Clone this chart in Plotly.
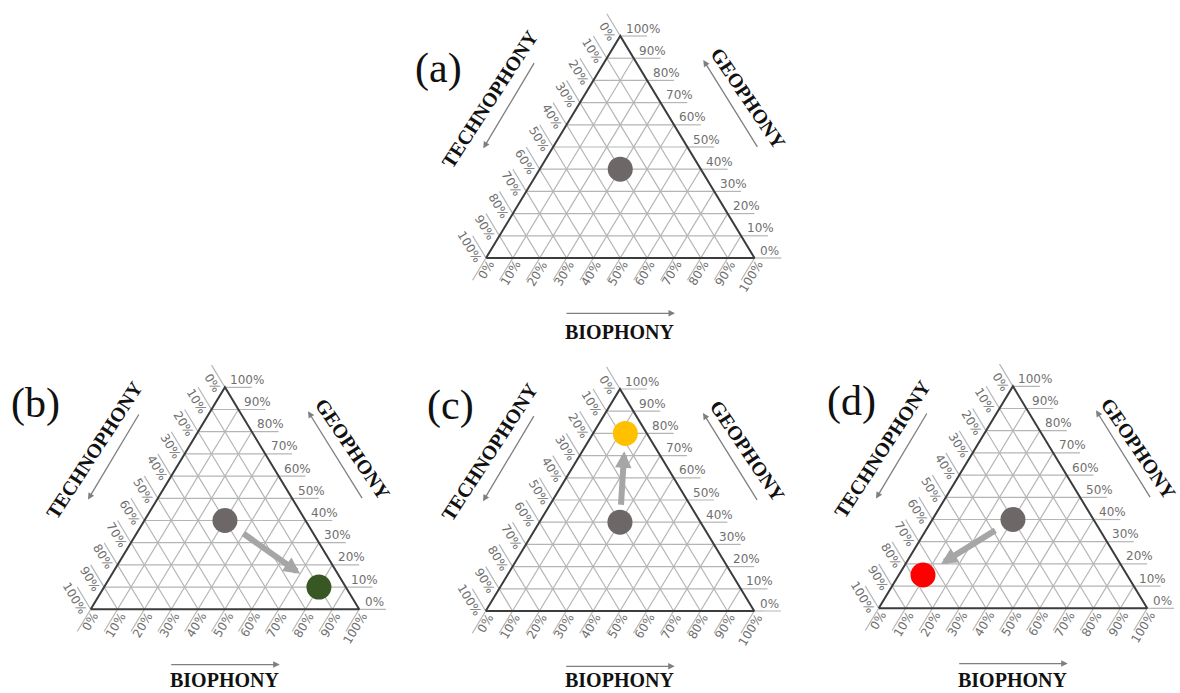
import math
import plotly.graph_objects as go

# Soundscape composition (%) per panel: biophony, technophony, geophony
panel_labels = ["(a)", "(b)", "(c)", "(d)"]
start_bio = [30, 30, 30, 30]
start_tech = [30, 30, 30, 30]
start_geo = [40, 40, 40, 40]
end_bio = [None, 80, 12, 9]
end_tech = [None, 10, 8, 76]
end_geo = [None, 10, 80, 15]
end_colors = [None, "#385723", "#ffc000", "#ff0000"]
start_color = "#6e6767"

tick_values = [0, 10, 20, 30, 40, 50, 60, 70, 80, 90, 100]
tick_labels = [f"{v}%" for v in tick_values]
title_bio = "BIOPHONY"
title_tech = "TECHNOPHONY"
title_geo = "GEOPHONY"

# ---- layout (pixels) ----
W, H = 1180, 693
SIDE_PX = 268.5
HEIGHT_PX = 222.0
R3 = math.sqrt(3) / 2
SX = SIDE_PX
SY = HEIGHT_PX / R3
# bottom-left corner of each triangle, and placement of the panel letter
origins = [(486.0, 258.0), (90.7, 609.3), (485.7, 611.0), (878.7, 608.3)]
letter_offsets = [(-47.7, -189.7), (-55.7, -206.0), (-35.7, -206.0), (-27.0, -206.6)]

GRID = "#b5b5b5"
EDGE = "#3c3c3c"
TICK_FONT = dict(family="DejaVu Sans", size=12, color="#6f6f6f")
TITLE_FONT = dict(family="Liberation Serif", size=20, color="#111111")
LETTER_FONT = dict(family="Liberation Serif", size=42, color="#111111")


def tern(bio, tech, geo):
    """Composition in % -> cartesian (side 1, technophony corner at origin)."""
    b, g = bio / 100.0, geo / 100.0
    return b + g / 2.0, g * R3


def shift(x, y, dx_px, dy_px):
    """Move a data point by a screen offset in pixels (y down)."""
    return x + dx_px / SX, y - dy_px / SY


def label_width(text, size=12):
    digits = sum(ch.isdigit() for ch in text)
    return size * (0.636 * digits + 0.95)


fig = go.Figure()
annotations = []
layout_axes = {}

for i, letter in enumerate(panel_labels):
    n = "" if i == 0 else str(i + 1)
    xref, yref = "x" + n, "y" + n
    ox, oy = origins[i]
    left, right = max(0.0, ox - 100), min(W, ox + 330)
    top, bottom = max(0.0, oy - 262), min(H, oy + 86)
    layout_axes["xaxis" + n] = dict(
        domain=[left / W, right / W],
        range=[(left - ox) / SX, (right - ox) / SX],
        visible=False, fixedrange=True, anchor=yref,
    )
    layout_axes["yaxis" + n] = dict(
        domain=[1 - bottom / H, 1 - top / H],
        range=[(oy - bottom) / SY, (oy - top) / SY],
        visible=False, fixedrange=True, anchor=xref,
    )

    # interior grid lines every 10 %
    gx, gy = [], []
    for v in tick_values[1:-1]:
        for p, q in (
            (tern(0, 100 - v, v), tern(100 - v, 0, v)),      # constant geophony
            (tern(100 - v, v, 0), tern(0, v, 100 - v)),      # constant technophony
            (tern(v, 100 - v, 0), tern(v, 0, 100 - v)),      # constant biophony
        ):
            gx += [p[0], q[0], None]
            gy += [p[1], q[1], None]
    # tick extensions outside each edge
    for v in tick_values:
        for p, q in (
            (tern(100 - v, 0, v), tern(110 - v, -10, v)),      # right edge
            (tern(0, v, 100 - v), tern(-10, v, 110 - v)),      # left edge
            (tern(v, 100 - v, 0), tern(v, 110 - v, -10)),      # bottom edge
        ):
            gx += [p[0], q[0], None]
            gy += [p[1], q[1], None]
    fig.add_trace(go.Scatter(x=gx, y=gy, mode="lines", xaxis=xref, yaxis=yref,
                             line=dict(color=GRID, width=1.2), hoverinfo="skip"))

    # triangle outline
    corners = [tern(0, 100, 0), tern(100, 0, 0), tern(0, 0, 100), tern(0, 100, 0)]
    fig.add_trace(go.Scatter(x=[c[0] for c in corners], y=[c[1] for c in corners],
                             mode="lines", xaxis=xref, yaxis=yref,
                             line=dict(color=EDGE, width=2), hoverinfo="skip"))

    # tick labels
    for v, lab in zip(tick_values, tick_labels):
        w = label_width(lab)
        # geophony, right edge, horizontal
        px, py = tern(100 - v, 0, v)
        lx, ly = shift(px, py, 3.5, -7.5)
        annotations.append(dict(x=lx, y=ly, xref=xref, yref=yref, text=lab, showarrow=False,
                                xanchor="left", yanchor="middle", font=TICK_FONT))
        # technophony, left edge, along the tick
        px, py = tern(0, v, 100 - v)
        qx, qy = tern(-10, v, 110 - v)
        ux, uy = (qx - px) * SX, -(qy - py) * SY
        L = math.hypot(ux, uy)
        ux, uy = ux / L, uy / L
        nx, ny = uy, -ux
        d = 0.8 + w / 2
        cx, cy = shift(px, py, ux * d + nx * 8.5, uy * d + ny * 8.5)
        ang = math.degrees(math.atan2(-uy, -ux))
        annotations.append(dict(x=cx, y=cy, xref=xref, yref=yref, text=lab, showarrow=False,
                                xanchor="center", yanchor="middle", textangle=ang, font=TICK_FONT))
        # biophony, bottom edge, along the tick
        px, py = tern(v, 100 - v, 0)
        qx, qy = tern(v, 110 - v, -10)
        ux, uy = (qx - px) * SX, -(qy - py) * SY
        L = math.hypot(ux, uy)
        ux, uy = ux / L, uy / L
        nx, ny = uy, -ux
        cx, cy = shift(px, py, ux * d + nx * 6.5, uy * d + ny * 6.5)
        ang = math.degrees(math.atan2(-uy, -ux))
        annotations.append(dict(x=cx, y=cy, xref=xref, yref=yref, text=lab, showarrow=False,
                                xanchor="center", yanchor="middle", textangle=ang, font=TICK_FONT))

    # axis titles and direction arrows (kept inside the page)
    geo_dx = min(262.0, W - 42 - ox)
    bio_dy = min(73.5, H - 13 - oy)
    for text, (dx, dy), ang in (
        (title_tech, (3.8, -159.0), -57),
        (title_geo, (geo_dx, -160.0), 56),
        (title_bio, (133.3, bio_dy), 0),
    ):
        tx, ty = shift(0, 0, dx, dy)
        annotations.append(dict(x=tx, y=ty, xref=xref, yref=yref, text=f"<b>{text}</b>",
                                showarrow=False, xanchor="center", yanchor="middle",
                                textangle=ang, font=TITLE_FONT))
    for (tdx, tdy), (hdx, hdy) in (
        ((49.0, -196.3), (-2.7, -109.7)),
        ((272.3, -109.7), (217.3, -198.0)),
        ((79.0, 55.3), (189.0, 55.3)),
    ):
        hx, hy = shift(0, 0, hdx, hdy)
        tx, ty = shift(0, 0, tdx, tdy)
        annotations.append(dict(x=hx, y=hy, ax=tx, ay=ty, xref=xref, yref=yref,
                                axref=xref, ayref=yref, text="", showarrow=True,
                                arrowhead=2, arrowsize=1, arrowwidth=1.3,
                                arrowcolor="#7f7f7f"))

    # panel letter
    lx, ly = shift(0, 0, *letter_offsets[i])
    annotations.append(dict(x=lx, y=ly, xref=xref, yref=yref, text=letter, showarrow=False,
                            xanchor="center", yanchor="middle", font=LETTER_FONT))

    # compositions
    sx0, sy0 = tern(start_bio[i], start_tech[i], start_geo[i])
    fig.add_trace(go.Scatter(x=[sx0], y=[sy0], mode="markers", xaxis=xref, yaxis=yref,
                             marker=dict(size=25, color=start_color),
                             hovertemplate="Biophony %{customdata[0]}%<br>Technophony %{customdata[1]}%"
                                           "<br>Geophony %{customdata[2]}%<extra></extra>",
                             customdata=[[start_bio[i], start_tech[i], start_geo[i]]]))
    if end_bio[i] is not None:
        ex, ey = tern(end_bio[i], end_tech[i], end_geo[i])
        fig.add_trace(go.Scatter(x=[ex], y=[ey], mode="markers", xaxis=xref, yaxis=yref,
                                 marker=dict(size=25, color=end_colors[i]),
                                 hovertemplate="Biophony %{customdata[0]}%<br>Technophony %{customdata[1]}%"
                                               "<br>Geophony %{customdata[2]}%<extra></extra>",
                                 customdata=[[end_bio[i], end_tech[i], end_geo[i]]]))
        f0, f1 = 0.18, 0.80
        annotations.append(dict(
            x=sx0 + (ex - sx0) * f1, y=sy0 + (ey - sy0) * f1,
            ax=sx0 + (ex - sx0) * f0, ay=sy0 + (ey - sy0) * f0,
            xref=xref, yref=yref, axref=xref, ayref=yref, text="", showarrow=True,
            arrowhead=2, arrowsize=0.55, arrowwidth=6, arrowcolor="#a6a6a6"))

fig.update_layout(
    width=W, height=H,
    margin=dict(l=0, r=0, t=0, b=0),
    paper_bgcolor="white", plot_bgcolor="rgba(0,0,0,0)",
    showlegend=False,
    annotations=annotations,
    **layout_axes,
)

fig.write_html("out.html")
